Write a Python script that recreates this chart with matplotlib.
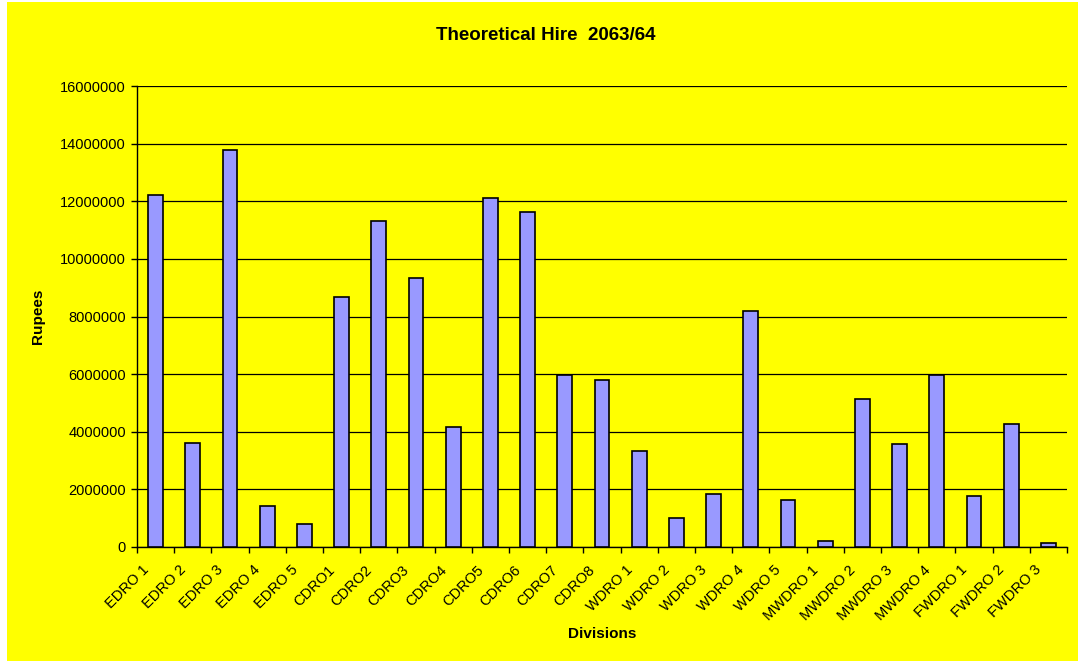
import matplotlib
matplotlib.use('Agg')
import matplotlib.pyplot as plt
from matplotlib.patches import Rectangle
from matplotlib.transforms import ScaledTranslation
import numpy as np

divisions = ['EDRO 1', 'EDRO 2', 'EDRO 3', 'EDRO 4', 'EDRO 5',
             'CDRO1', 'CDRO2', 'CDRO3', 'CDRO4', 'CDRO5', 'CDRO6', 'CDRO7', 'CDRO8',
             'WDRO 1', 'WDRO 2', 'WDRO 3', 'WDRO 4', 'WDRO 5',
             'MWDRO 1', 'MWDRO 2', 'MWDRO 3', 'MWDRO 4',
             'FWDRO 1', 'FWDRO 2', 'FWDRO 3']
hire = [12220000, 3610000, 13780000, 1420000, 810000,
        8680000, 11300000, 9350000, 4180000, 12110000, 11630000, 5960000, 5800000,
        3320000, 1020000, 1830000, 8190000, 1630000,
        200000, 5130000, 3590000, 5980000,
        1760000, 4270000, 150000]
yticks = [0, 2000000, 4000000, 6000000, 8000000, 10000000, 12000000, 14000000, 16000000]

plt.rcParams['font.family'] = ['Liberation Sans', 'DejaVu Sans']

W, H = 1078, 661
fig = plt.figure(figsize=(W/100, H/100), dpi=100, facecolor='white')
fig.patches.append(Rectangle((7/W, 0), 1 - 7/W, 1 - 2/H, transform=fig.transFigure,
                             facecolor='#FFFF00', edgecolor='none', zorder=-10))

ax = fig.add_axes([137/W, (H-547)/H, 930/W, 461/H])
ax.set_facecolor('#FFFF00')

x = np.arange(len(divisions)) + 0.5
ax.bar(x, hire, width=0.4, color='#9999FF', edgecolor='black', linewidth=1.2, zorder=3)

ax.set_xlim(0, len(divisions))
ax.set_ylim(0, 16000000)
ax.set_yticks(yticks)
ax.set_yticklabels([str(v) for v in yticks], fontsize=10.5)
ax.yaxis.grid(True, color='black', linewidth=0.9)
ax.set_axisbelow(True)

# major ticks sit between categories, labels on minor ticks at the centres
ax.set_xticks(np.arange(len(divisions) + 1))
ax.set_xticklabels([])
ax.set_xticks(x, minor=True)
ax.set_xticklabels(divisions, minor=True, rotation=45, ha='right', va='center',
                   rotation_mode='anchor', fontsize=10.5)
ax.tick_params(axis='x', which='major', direction='out', length=4, width=1, color='black')
ax.tick_params(axis='x', which='minor', length=0, pad=15)
ax.tick_params(axis='y', direction='out', length=4, width=1, pad=4)
for lbl in ax.get_xticklabels(minor=True):
    lbl.set_transform(lbl.get_transform() + ScaledTranslation(-9/100, 0, fig.dpi_scale_trans))

for s in ['top', 'right']:
    ax.spines[s].set_visible(False)
for s in ['left', 'bottom']:
    ax.spines[s].set_color('black')
    ax.spines[s].set_linewidth(1)

ax.set_ylabel('Rupees', fontsize=11, fontweight='bold')
ax.yaxis.set_label_coords(-0.099, 0.5)
ax.set_xlabel('Divisions', fontsize=11, fontweight='bold')
ax.xaxis.set_label_coords(0.5, -0.174)

fig.text(546/W, 1 - 36/H, 'Theoretical Hire  2063/64', ha='center', va='center',
         fontsize=13.5, fontweight='bold')

fig.savefig('out.png', dpi=100, facecolor=fig.get_facecolor())
plt.close(fig)
